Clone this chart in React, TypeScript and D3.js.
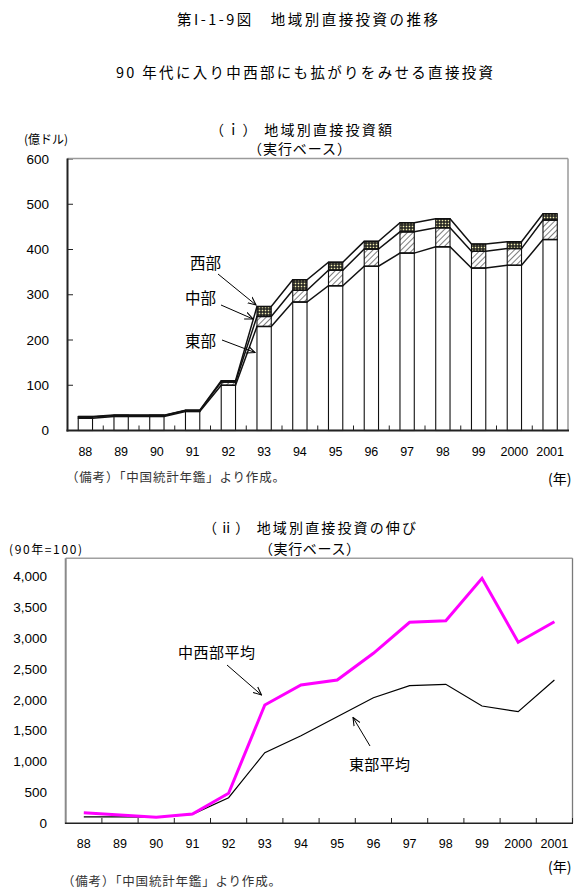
import React from "react";
import * as d3 from "d3";

const years = ["88", "89", "90", "91", "92", "93", "94", "95", "96", "97", "98", "99", "2000", "2001"];
const eastAmount = [27, 31, 31, 42, 100, 230, 284, 320, 363, 392, 406, 359, 365, 422];
const centralAmount = [3, 2, 2, 2, 7, 22, 26, 34, 38, 47, 42, 37, 37, 43];
const westAmount = [1, 1, 1, 1, 3, 22, 23, 18, 17, 20, 20, 16, 15, 14];
const amountTicks = [0, 100, 200, 300, 400, 500, 600];

const centralWestIndex = [172, 135, 100, 150, 487, 1919, 2243, 2324, 2757, 3260, 3286, 3974, 2936, 3270];
const eastIndex = [105, 103, 100, 146, 415, 1145, 1420, 1729, 2037, 2232, 2254, 1903, 1810, 2324];
const indexTicks = [0, 500, 1000, 1500, 2000, 2500, 3000, 3500, 4000];

const CJK = "'Noto Sans CJK JP', 'Noto Sans', sans-serif";
const NUM = "'Liberation Sans', Arial, sans-serif";

export default function App() {
  // ---------- top chart ----------
  const xTop = d3.scaleBand<string>().domain(years).range([67.5, 568]).padding(0);
  const yTop = d3.scaleLinear().domain([0, 600]).range([430.5, 159]);
  const barW = xTop.bandwidth() * 0.4;
  const table = years.map((yr, i) => ({ year: yr, east: eastAmount[i], central: centralAmount[i], west: westAmount[i] }));
  const stack = d3.stack<any>().keys(["east", "central", "west"])(table);
  const fills: Record<string, string> = { east: "#ffffff", central: "url(#hatch)", west: "url(#dots)" };
  const barLeft = (yr: string) => (xTop(yr) as number) + (xTop.bandwidth() - barW) / 2;

  const stepLine = d3.line<[number, number]>().x((d) => d[0]).y((d) => d[1]);
  const levelPaths = stack.map((s) => {
    const pts: [number, number][] = [];
    s.forEach((d: any) => {
      const l = barLeft(d.data.year);
      pts.push([l, yTop(d[1])]);
      pts.push([l + barW, yTop(d[1])]);
    });
    return stepLine(pts) as string;
  });

  // ---------- bottom chart ----------
  const xBot = d3.scaleBand<string>().domain(years).range([65.7, 572.5]).padding(0);
  const yBot = d3.scaleLinear().domain([0, 4000]).range([823.3, 576.7]);
  const cx = (yr: string) => (xBot(yr) as number) + xBot.bandwidth() / 2;
  const idxLine = d3
    .line<number>()
    .x((_, i) => cx(years[i]))
    .y((d) => yBot(d));

  const topFrameTop = 158.5;
  const botFrameTop = 558.3;

  return (
    <svg
      width={588}
      height={895}
      viewBox="0 0 588 895"
      style={{ position: "absolute", left: 0, top: 0, display: "block", background: "#fff" }}
    >
      <defs>
        <pattern id="hatch" width={4} height={4} patternUnits="userSpaceOnUse" patternTransform="rotate(45)">
          <rect width={4} height={4} fill="#fff" />
          <line x1={0} y1={0} x2={0} y2={4} stroke="#000" strokeWidth={1} />
        </pattern>
        <pattern id="dots" width={3} height={3} patternUnits="userSpaceOnUse">
          <rect width={3} height={3} fill="#1a1a1a" />
          <rect x={0.7} y={0.7} width={1.6} height={1.6} fill="#f2efb0" />
        </pattern>
        <marker id="arrow" viewBox="0 0 10 10" refX={9} refY={5} markerWidth={9} markerHeight={9} orient="auto" markerUnits="userSpaceOnUse">
          <path d="M0,1 L9,5 L0,9" fill="none" stroke="#000" strokeWidth={1.2} />
        </marker>
      </defs>

      {/* headings */}
      <text x={177} y={18} fontFamily={CJK} fontSize={14.5} dominantBaseline="central" textLength={261} lengthAdjust="spacing">
        第I-1-9図　地域別直接投資の推移
      </text>
      <text x={116} y={71} fontFamily={CJK} fontSize={14.5} dominantBaseline="central" textLength={377} lengthAdjust="spacing">
        90 年代に入り中西部にも拡がりをみせる直接投資
      </text>

      {/* ===== top chart ===== */}
      <text x={210} y={128.5} fontFamily={CJK} fontSize={14} dominantBaseline="central" textLength={182} lengthAdjust="spacing">
        （ｉ） 地域別直接投資額
      </text>
      <text x={248} y={147.5} fontFamily={CJK} fontSize={14} dominantBaseline="central" textLength={103} lengthAdjust="spacing">
        （実行ベース）
      </text>
      <text x={24} y={138} fontFamily={CJK} fontSize={12} dominantBaseline="central">
        (億ドル)
      </text>

      {amountTicks.map((t) => (
        <g key={"yt" + t}>
          <text x={49} y={yTop(t)} textAnchor="end" fontFamily={NUM} fontSize={13.5} dominantBaseline="central">
            {t}
          </text>
          <line x1={67.5} x2={73} y1={yTop(t)} y2={yTop(t)} stroke="#222" strokeWidth={1} />
        </g>
      ))}

      {/* bars */}
      {stack.map((s) => (
        <g key={s.key}>
          {s.map((d: any) => (
            <rect
              key={d.data.year}
              x={barLeft(d.data.year)}
              y={yTop(d[1])}
              width={barW}
              height={Math.max(0, yTop(d[0]) - yTop(d[1]))}
              fill={fills[s.key]}
              stroke="#111"
              strokeWidth={1.1}
            />
          ))}
        </g>
      ))}
      {levelPaths.map((p, i) => (
        <path key={"lv" + i} d={p} fill="none" stroke="#111" strokeWidth={1.5} />
      ))}

      {/* frame */}
      <line x1={67.5} x2={568} y1={topFrameTop} y2={topFrameTop} stroke="#9a9a9a" strokeWidth={1.5} />
      <line x1={568} x2={568} y1={topFrameTop} y2={430.5} stroke="#9a9a9a" strokeWidth={1.5} />
      <line x1={67.5} x2={67.5} y1={topFrameTop} y2={431.5} stroke="#222" strokeWidth={2} />
      <line x1={66.5} x2={569} y1={430.5} y2={430.5} stroke="#222" strokeWidth={2} />
      {years.slice(1).map((yr) => (
        <line key={"xt" + yr} x1={xTop(yr) as number} x2={xTop(yr) as number} y1={430.5} y2={425.5} stroke="#222" strokeWidth={1} />
      ))}
      {years.map((yr) => (
        <text key={"xl" + yr} x={(xTop(yr) as number) + xTop.bandwidth() / 2} y={452} textAnchor="middle" fontFamily={NUM} fontSize={12.5} dominantBaseline="central">
          {yr}
        </text>
      ))}
      <text x={66} y={476} fontFamily={CJK} fontSize={12.5} fill="#333" dominantBaseline="central" textLength={219} lengthAdjust="spacing">
        （備考）「中国統計年鑑」より作成。
      </text>
      <text x={548} y={478} fontFamily={CJK} fontSize={14} dominantBaseline="central">
        (年)
      </text>

      {/* top annotations */}
      <text x={190} y={262} fontFamily={CJK} fontSize={15.5} dominantBaseline="central">西部</text>
      <text x={185} y={297} fontFamily={CJK} fontSize={15.5} dominantBaseline="central">中部</text>
      <text x={185} y={340} fontFamily={CJK} fontSize={15.5} dominantBaseline="central">東部</text>
      <line x1={218} y1={274} x2={256} y2={305} stroke="#000" strokeWidth={1} markerEnd="url(#arrow)" />
      <line x1={221} y1={305} x2={253} y2={319} stroke="#000" strokeWidth={1} markerEnd="url(#arrow)" />
      <line x1={222} y1={340} x2={255} y2={352.5} stroke="#000" strokeWidth={1} markerEnd="url(#arrow)" />

      {/* ===== bottom chart ===== */}
      <text x={203} y={527} fontFamily={CJK} fontSize={14} dominantBaseline="central" textLength={213} lengthAdjust="spacing">
        （ⅱ） 地域別直接投資の伸び
      </text>
      <text x={259} y={547.5} fontFamily={CJK} fontSize={14} dominantBaseline="central" textLength={101} lengthAdjust="spacing">
        （実行ベース）
      </text>
      <text x={9} y={548} fontFamily={CJK} fontSize={12} dominantBaseline="central" textLength={73} lengthAdjust="spacing">
        (90年=100)
      </text>

      {indexTicks.map((t) => (
        <text key={"iyt" + t} x={47} y={yBot(t)} textAnchor="end" fontFamily={NUM} fontSize={13.5} dominantBaseline="central">
          {d3.format(",")(t)}
        </text>
      ))}

      <line x1={65.7} x2={572.5} y1={botFrameTop} y2={botFrameTop} stroke="#a0a0a0" strokeWidth={1.5} />
      <line x1={572.5} x2={572.5} y1={botFrameTop} y2={823.3} stroke="#7a7a7a" strokeWidth={1.3} />
      <line x1={65.7} x2={65.7} y1={botFrameTop} y2={824} stroke="#8a8a8a" strokeWidth={2} />
      <line x1={65} x2={573} y1={823.3} y2={823.3} stroke="#222" strokeWidth={1.5} />
      {years.slice(1).map((yr) => (
        <line key={"bxt" + yr} x1={xBot(yr) as number} x2={xBot(yr) as number} y1={823.3} y2={818} stroke="#222" strokeWidth={1} />
      ))}
      <line x1={572.5} x2={572.5} y1={823.3} y2={818} stroke="#222" strokeWidth={1} />

      <path d={idxLine(eastIndex) as string} fill="none" stroke="#000" strokeWidth={1.2} />
      <path d={idxLine(centralWestIndex) as string} fill="none" stroke="#ff00ff" strokeWidth={3} strokeLinejoin="miter" />

      {years.map((yr) => (
        <text key={"bxl" + yr} x={cx(yr)} y={844} textAnchor="middle" fontFamily={NUM} fontSize={12.5} dominantBaseline="central">
          {yr}
        </text>
      ))}
      <text x={548} y={866} fontFamily={CJK} fontSize={14} dominantBaseline="central">
        (年)
      </text>
      <text x={62} y={880} fontFamily={CJK} fontSize={12.5} fill="#333" dominantBaseline="central" textLength={219} lengthAdjust="spacing">
        （備考）「中国統計年鑑」より作成。
      </text>

      {/* bottom annotations */}
      <text x={178} y={651} fontFamily={CJK} fontSize={15} dominantBaseline="central" textLength={77} lengthAdjust="spacing">
        中西部平均
      </text>
      <line x1={227} y1={665} x2={261.5} y2={695} stroke="#000" strokeWidth={1} markerEnd="url(#arrow)" />
      <text x={349} y={763.5} fontFamily={CJK} fontSize={15} dominantBaseline="central" textLength={61} lengthAdjust="spacing">
        東部平均
      </text>
      <line x1={370} y1={746} x2={353} y2={717.5} stroke="#000" strokeWidth={1} markerEnd="url(#arrow)" />
    </svg>
  );
}
